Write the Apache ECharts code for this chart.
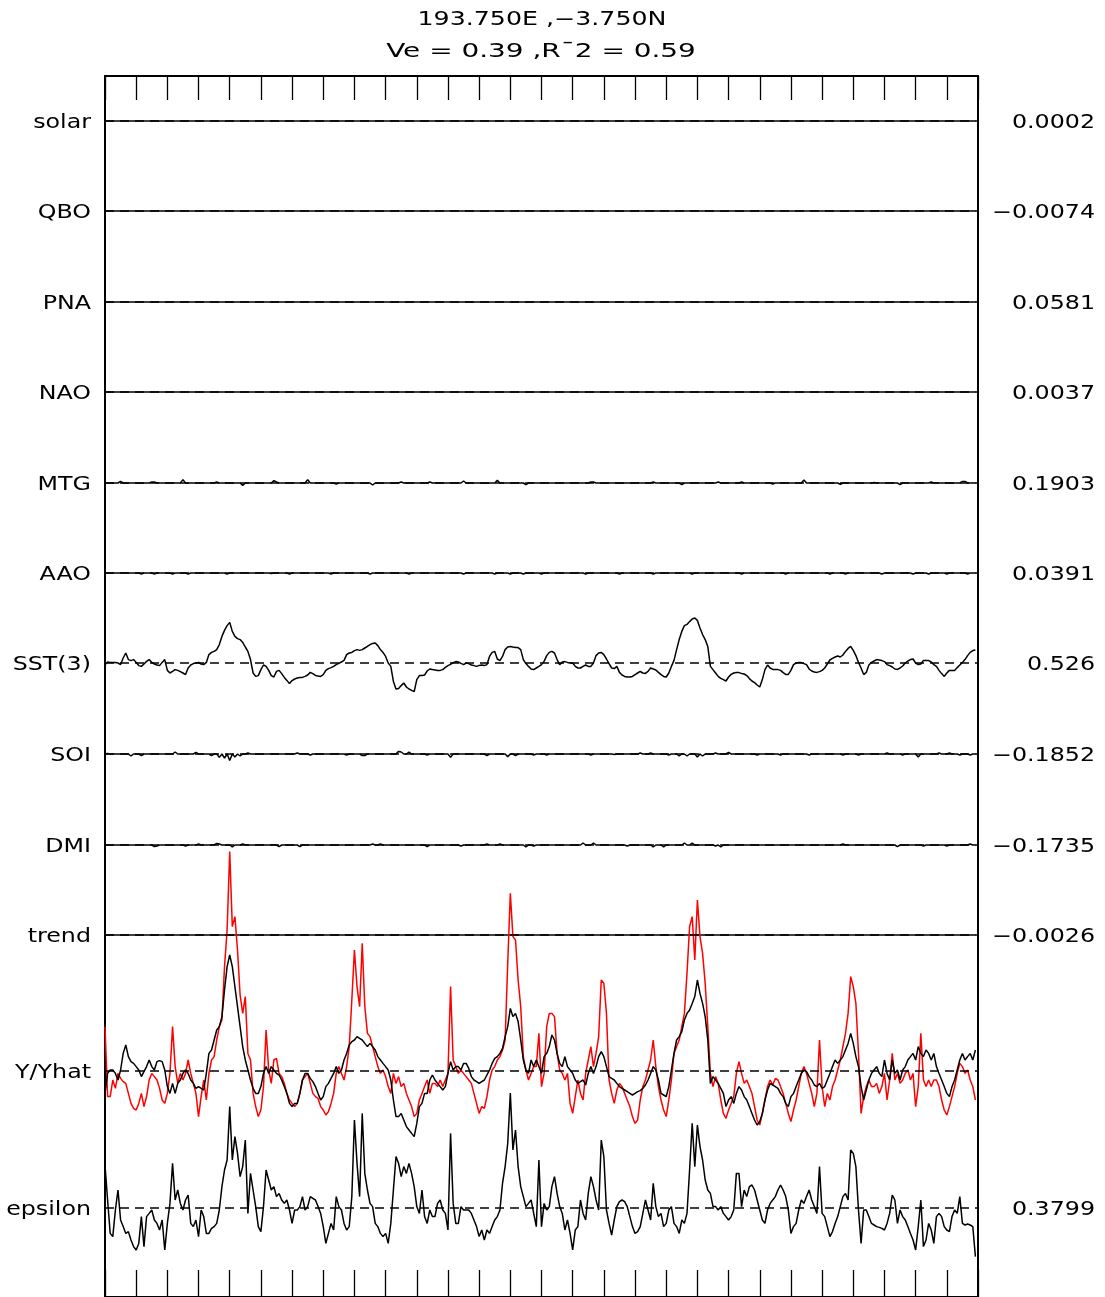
<!DOCTYPE html>
<html><head><meta charset="utf-8">
<script src="https://cdn.jsdelivr.net/npm/echarts@6/dist/echarts.min.js"></script>
<style>html,body{margin:0;padding:0;background:#fff}#c{width:1105px;height:1297px}</style>
</head><body><div id="c"></div>
<script>
// ---------------- DATA ----------------
const titleLine1 = "193.750E ,\u22123.750N";
const titleLine2 = "Ve = 0.39 ,R\u00AF2 = 0.59";
const rowNames = ["solar","QBO","PNA","NAO","MTG","AAO","SST(3)","SOI","DMI","trend","Y/Yhat","epsilon"];
const rowCoefs = ["0.0002","\u22120.0074","0.0581","0.0037","0.1903","0.0391","0.526","\u22120.1852","\u22120.1735","\u22120.0026","","0.3799"];
const nMonths = 336;           // Jan 1979 .. Dec 2006, monthly
const yearTickMonths = 12;

const sst = [
-0.08,0.05,0.03,0.03,0.02,0,-0.08,0.25,0.5,0.17,
0.12,0.17,0.02,-0.13,-0.17,-0.05,0.08,0.17,0.03,-0.05,
-0.1,-0.13,0.03,0.17,-0.37,-0.5,-0.42,-0.33,-0.37,-0.43,
-0.5,-0.58,-0.25,-0.1,-0.03,0,0.03,-0.05,-0.08,0.03,
0.42,0.53,0.58,0.67,0.92,1.33,1.63,1.87,2.03,1.58,
1.33,1.22,1.17,1.03,0.8,0.58,0.17,-0.5,-0.67,-0.63,
-0.33,-0.1,-0.17,-0.37,-0.63,-0.7,-0.42,-0.37,-0.53,-0.72,
-0.87,-1.03,-0.88,-0.8,-0.75,-0.73,-0.72,-0.67,-0.6,-0.47,
-0.53,-0.62,-0.65,-0.67,-0.58,-0.37,-0.28,-0.23,-0.17,-0.08,
-0.02,0.05,0.13,0.42,0.5,0.53,0.62,0.67,0.63,0.67,
0.75,0.83,0.92,0.98,1.0,0.87,0.67,0.53,0.33,0,
-0.17,-0.92,-1.3,-1.27,-1.13,-1.0,-1.2,-1.3,-1.37,-1.43,
-0.83,-0.63,-0.63,-0.6,-0.4,-0.3,-0.33,-0.35,-0.37,-0.37,
-0.33,-0.22,-0.13,-0.07,0.02,0.07,0.05,-0.02,-0.08,0,
-0.03,-0.1,-0.13,-0.17,-0.12,-0.1,-0.13,-0.08,0.33,0.53,
0.58,0.2,0.12,0.33,0.67,0.8,0.83,0.8,0.78,0.77,
0.67,0.17,-0.03,-0.17,-0.3,-0.33,-0.25,-0.17,-0.08,0.08,
0.37,0.53,0.58,0.5,0.17,-0.08,0.05,0.07,0.03,0,
0,-0.17,-0.25,-0.25,-0.17,-0.1,-0.17,-0.17,0,0.37,
0.5,0.53,0.42,0.2,-0.03,-0.25,-0.28,-0.17,-0.47,-0.6,
-0.67,-0.7,-0.7,-0.67,-0.58,-0.5,-0.42,-0.5,-0.52,-0.42,
-0.25,-0.3,-0.35,-0.47,-0.58,-0.67,-0.7,-0.5,-0.17,0.13,
0.67,1.17,1.58,1.87,1.93,2.07,2.2,2.25,2.13,1.75,
1.42,1.17,0.83,-0.17,-0.33,-0.5,-0.67,-0.77,-0.83,-0.9,
-0.7,-0.57,-0.5,-0.47,-0.48,-0.52,-0.55,-0.63,-0.78,-0.9,
-0.98,-1.1,-1.2,-0.83,-0.33,-0.1,-0.25,-0.32,-0.33,-0.33,
-0.37,-0.48,-0.57,-0.57,-0.37,-0.08,0,0.03,0.02,-0.03,
-0.08,-0.3,-0.4,-0.45,-0.47,-0.43,-0.37,-0.25,-0.05,0.15,
0.23,0.3,0.35,0.3,0.4,0.58,0.73,0.83,0.63,0.37,
0.03,-0.25,-0.58,-0.47,-0.1,0.03,0.1,0.17,0.15,0.12,
0.07,-0.08,-0.13,-0.2,-0.3,-0.32,-0.25,-0.15,0,0.1,
0.17,0.2,0,-0.08,-0.05,0.13,0.13,0.12,0.05,-0.08,
-0.17,-0.37,-0.53,-0.67,-0.5,-0.37,-0.38,-0.37,-0.23,-0.1,
0.03,0.17,0.37,0.53,0.62,0.65];

const yObs = [
2.22,-1.28,-1.28,-0.45,-0.87,-0.12,-0.37,-0.53,-0.62,-1.12,
-1.62,-1.87,-1.95,-1.62,-1.12,-1.78,-1.28,-0.45,-0.12,-0.28,
-0.45,-0.87,-1.45,-1.62,-1.12,-0.12,2.22,0.22,-0.62,-0.12,
-0.45,-0.12,0.55,-0.12,-0.62,-1.12,-2.28,-1.28,-0.45,-1.45,
-0.12,0.55,0.72,1.55,2.22,2.55,5.22,7.05,10.97,7.22,
7.72,6.05,3.8,2.88,3.72,0.88,0.55,-1.12,-1.78,-2.28,
-1.95,-0.78,2.05,0.05,-0.62,0.55,0.63,-0.12,-0.28,-0.62,
-1.12,-1.45,-1.62,-1.78,-1.62,-1.12,-0.45,-0.28,-0.12,-0.62,
-1.12,-1.28,-1.37,-1.78,-1.95,-2.2,-2.03,-1.62,-1.12,-0.12,
0.22,-0.12,-0.45,0.22,1.22,3.55,6.05,4.22,3.22,6.38,
3.22,1.88,1.72,1.22,0.72,0.22,-0.12,0.05,-0.28,-0.78,
-1.12,-0.12,-0.62,-0.28,-0.78,-0.62,-1.12,-1.45,-1.78,-2.28,
-2.12,-1.45,-1.12,-0.78,-0.45,-1.12,-0.62,-0.62,-0.78,-0.45,
-0.78,-0.45,-0.12,4.22,0.55,0.22,-0.12,0.05,-0.12,-0.28,
-0.45,-0.62,-1.12,-1.62,-2.12,-1.78,-1.87,-1.28,-0.45,0.05,
0.22,0.55,0.72,1.05,1.55,5.38,8.88,6.72,6.55,4.55,
3.22,0.72,0.05,-0.45,-0.12,0.22,0.22,1.88,-0.78,-0.12,
2.22,2.88,2.88,2.72,0.88,0.05,-0.12,-0.45,-0.12,-1.62,
-2.12,-1.28,-0.45,-1.12,-1.45,-0.12,0.55,1.22,0.22,0.88,
1.72,4.55,4.38,2.88,-0.45,-1.12,-1.62,-0.95,-0.62,-0.78,
-1.12,-1.45,-1.78,-2.28,-2.62,-2.45,-1.45,-0.78,-0.45,0.05,
0.55,1.55,0.22,-0.78,-1.45,-1.95,-2.28,-1.45,-0.45,0.88,
1.22,1.55,2.22,2.88,4.88,7.22,7.72,5.55,8.55,6.72,
5.88,4.38,2.22,-0.12,-0.78,-0.28,-0.62,-1.45,-2.12,-2.37,
-1.95,-1.62,-1.28,-0.12,0.47,-0.12,-0.62,-0.45,-0.78,-1.12,
-1.78,-2.45,-2.7,-2.12,-1.45,-0.78,-0.45,-0.7,-0.37,-0.45,
-0.78,-1.12,-1.62,-2.12,-2.53,-1.95,-1.45,-0.78,-0.12,0.22,
-0.12,-0.62,-1.12,-1.78,-1.12,1.55,-0.78,-1.78,-1.12,-1.45,
-0.78,-0.45,0.05,0.55,1.22,1.88,2.88,4.72,4.22,3.38,
0.88,-2.12,-1.28,-0.78,-0.45,-0.78,-0.78,-0.62,-1.12,-0.78,
-0.12,-1.45,-0.45,0.88,-0.45,-0.12,-0.62,-0.45,-0.12,0.05,
-0.45,-0.12,-1.78,-0.78,1.88,-0.45,-0.78,-0.45,-0.78,-0.45,
-0.45,-0.78,-1.45,-1.95,-2.2,-1.78,-1.28,-0.78,-0.12,0.38,
0.22,-0.12,0.05,-0.45,-0.78,-1.45];

const yHat = [
-1.12,-0.12,0.05,0.05,-0.12,-0.45,0.05,0.88,1.3,0.72,
0.47,0.38,0.22,0.05,-0.28,-0.03,0.22,0.55,0.22,0.05,
0.47,0.52,0.47,0.05,-0.78,-1.12,-0.62,-1.12,-0.62,-0.45,
-0.12,0.05,-0.12,-0.45,-0.62,-0.87,-0.78,-0.87,-0.95,-0.12,
0.88,1.05,1.55,2.05,2.22,2.72,4.05,5.22,5.8,5.22,
4.22,3.22,2.22,1.22,0.55,0.05,-0.45,-0.87,-1.12,-1.12,
-0.78,-0.12,0.22,-0.12,0.22,0.05,-0.12,-0.2,-0.45,-0.78,
-1.12,-1.62,-1.78,-1.62,-1.62,-1.12,-0.45,-0.12,-0.12,-0.37,
-0.53,-0.78,-1.12,-1.45,-1.28,-0.78,-0.62,-0.37,-0.12,0.22,
-0.12,0.05,0.55,0.88,1.3,1.47,1.55,1.72,1.63,1.55,
1.38,1.22,1.38,1.22,1.05,0.72,0.55,0.38,0.22,0.05,
-0.45,-1.45,-2.28,-2.28,-2.12,-2.45,-2.78,-2.95,-3.12,-3.28,
-2.62,-1.78,-1.62,-1.12,-1.12,-0.45,-0.2,-0.45,-0.62,-0.78,
-0.95,-0.78,-0.12,0.47,0.05,0.22,0.22,0.05,0.38,0.38,
0.13,-0.28,-0.45,-0.53,-0.62,-0.53,-0.45,-0.2,0.05,0.38,
0.63,0.72,0.88,1.13,1.72,2.22,3.13,2.72,2.88,2.47,
1.55,0.55,0.05,-0.12,0.55,0.22,0.55,0.22,-0.12,0.72,
0.88,1.22,1.8,1.55,0.88,0.38,0.22,0.72,0.22,0.05,
-0.12,-0.45,-0.62,-0.53,-0.45,-0.7,-0.12,0.22,-0.12,0.22,
0.72,0.97,0.72,0.22,-0.28,-0.37,-0.45,-0.62,-0.78,-0.87,
-0.95,-1.03,-1.12,-1.2,-1.12,-1.03,-0.98,-0.87,-0.7,-0.45,
-0.12,0.22,0.05,-0.45,-1.12,-1.2,-1.28,-0.78,0.05,0.88,
1.55,1.72,1.97,2.55,2.88,3.05,3.38,3.72,4.55,3.88,
3.38,2.72,1.55,-0.62,-0.28,-0.45,-0.62,-0.87,-1.12,-1.78,
-1.45,-1.28,-1.62,-1.12,-0.78,-0.95,-1.28,-1.45,-1.78,-2.12,
-2.45,-2.7,-2.53,-2.12,-1.45,-0.95,-0.62,-0.7,-0.78,-0.87,
-1.12,-1.28,-1.62,-1.78,-1.28,-1.12,-0.78,-0.45,-0.12,0.05,
-0.03,-0.28,-0.45,-0.7,-0.78,-0.62,-0.87,-0.78,-0.45,-0.12,
0.22,0.55,0.38,0.55,0.72,1.05,1.38,1.88,1.38,0.72,
0.22,-0.78,-1.45,-0.95,-0.45,-0.12,0.05,0.22,-0.12,-0.28,
0.55,-0.12,-0.45,0.55,-0.12,0.05,-0.45,0.05,0.22,0.55,
0.72,0.88,0.55,1.22,0.88,0.72,1.05,0.88,0.55,0.88,
0.22,-0.12,-0.45,-0.78,-1.12,-1.28,-0.78,-0.45,0.05,0.55,
0.88,0.55,0.72,0.88,0.55,1.05];

const epsilon = [
2.15,0.4,-1.27,-1.43,-0.1,0.9,-0.6,-0.93,-1.27,-1.18,
-1.6,-1.93,-2.1,-1.77,-0.43,-1.93,-0.43,-0.27,-0.1,-0.6,
-0.77,-1.1,-0.6,-2.1,-0.77,0.23,2.23,0.4,0.9,0.23,
-0.1,0.4,0.65,-0.77,-0.93,-0.6,-1.43,-0.1,-0.43,-1.27,
-1.27,-1.02,-0.93,-0.77,-0.1,1.07,1.9,2.4,5.07,2.4,
3.57,2.73,1.57,2.07,3.4,-0.27,1.73,0.9,0.07,-0.93,
-1.18,0.07,1.9,1.4,0.9,1.07,0.57,0.73,0.4,0.23,
0.4,-0.1,-0.77,-0.1,-0.1,0.07,0.57,-0.1,0.07,0.57,
0.48,0.4,0.07,-0.27,-0.93,-1.77,-1.27,-0.77,-1.1,0.57,
0.07,-0.1,-0.77,-1.1,-0.93,0.57,4.4,2.23,0.57,4.73,
1.73,0.9,0.23,0.07,-0.77,-0.93,-1.27,-1.43,-1.27,-1.77,
-0.77,0.9,2.57,2.23,1.57,2.07,1.73,2.23,1.73,1.07,
0.07,-0.27,0.9,-0.43,-0.77,-0.1,-0.43,-0.43,0.23,0.4,
-0.1,-0.27,-1.1,3.73,0.23,-0.77,-0.77,0.07,-0.1,-0.1,
-0.1,-0.27,-0.6,-0.93,-1.43,-1.1,-1.6,-1.1,-1.27,-0.93,
-0.6,-0.43,-0.1,1.23,2.07,3.23,5.75,2.9,3.9,2.07,
1.07,0.57,0.07,0.23,0.4,-0.27,-0.93,2.4,-0.93,0.23,
-0.1,0.07,1.07,1.57,0.73,0.07,-0.27,-1.1,-0.6,-1.27,
-2.1,-1.1,-0.93,0.4,-0.27,-0.6,0.73,1.57,1.07,0.4,
-0.1,3.4,2.57,-0.1,-0.77,-1.35,-0.6,0.07,0.32,0.4,
0.32,0.07,-0.43,-0.93,-1.27,-1.18,-0.93,-0.27,0.4,-0.1,
-0.6,1.23,0.07,-0.43,-0.27,-0.93,-0.77,-0.1,0.07,-0.77,
-0.93,-1.27,-0.6,-0.77,-0.27,1.9,4.23,2.07,4.15,3.07,
2.4,1.4,0.9,0.73,0.07,0.07,-0.1,0.07,-0.27,-0.43,
-0.6,-0.43,-0.1,1.73,1.73,0.07,0.9,0.57,1.07,1.15,
0.9,0.4,-0.1,-0.6,-0.77,-0.1,0.23,0.4,0.57,0.9,
1.15,0.9,0.57,-0.1,-1.27,-0.93,-0.77,-0.1,0.4,0.23,
0.57,0.9,0.4,0.07,-0.27,2.07,-0.27,-0.43,-0.93,-1.43,
-1.18,-0.77,-0.43,0.07,0.57,0.73,0.4,2.9,2.73,2.07,
-0.1,-1.77,-0.1,-0.1,-0.43,-0.77,-0.85,-0.93,-0.97,-1.02,
-1.1,-0.77,-0.27,0.65,0.4,-0.77,-0.1,-0.43,-0.6,-0.93,
-1.27,-1.6,-2.1,-0.93,0.4,-1.93,-1.6,-0.77,-1.1,-1.77,
-0.43,-0.27,-0.43,-0.93,-1.1,-1.18,-0.43,-0.1,-0.27,0.57,
-0.77,-0.85,-0.8,-0.85,-0.93,-2.43];

// near-flat components: [month, value] departures from zero
const mtgDepart = [[6,0.08],[18,0.05],[19,0.05],[30,0.17],[43,0.05],[53,-0.12],[65,0.12],[66,0.05],[78,0.17],[89,-0.05],[103,-0.1],[114,0.05],[125,0.05],[138,0.1],[151,0.13],[162,-0.08],[187,0.05],[188,0.05],[211,0.05],[222,-0.08],[236,0.05],[245,0.05],[257,-0.05],[269,0.15],[283,-0.06],[296,0.03],[306,-0.08],[318,0.05],[330,0.08],[331,0.08]];
const aaoDepart = [[14,-0.05],[19,-0.05],[26,-0.05],[32,-0.05],[47,-0.05],[64,-0.03],[71,-0.05],[87,-0.05],[102,-0.05],[117,-0.05],[138,-0.05],[150,-0.05],[156,-0.05],[161,-0.05],[168,-0.05],[185,-0.05],[198,-0.05],[211,-0.05],[226,-0.05],[245,-0.05],[262,-0.05],[279,-0.05],[285,-0.05],[299,-0.05],[311,-0.05],[317,-0.05],[324,-0.05],[332,-0.05]];
const soiDepart = [[1,0.03],[10,-0.1],[14,-0.08],[27,0.1],[35,0.08],[41,-0.08],[44,-0.17],[46,-0.2],[48,-0.33],[50,-0.15],[52,-0.1],[55,0.05],[74,0.05],[79,-0.05],[93,-0.05],[99,-0.08],[100,-0.08],[113,0.13],[114,0.1],[117,0.1],[124,-0.05],[133,-0.17],[147,-0.08],[155,-0.13],[158,-0.08],[165,-0.05],[170,-0.05],[187,-0.05],[196,-0.03],[206,0.05],[210,0.05],[217,-0.05],[221,-0.1],[224,-0.1],[228,-0.15],[230,-0.1],[235,0.05],[240,0.08],[251,-0.05],[260,-0.05],[271,-0.05],[284,-0.05],[290,-0.05],[301,0.05],[307,-0.05],[313,-0.15],[321,0.05],[325,0.05],[329,-0.05],[333,-0.05]];
const dmiDepart = [[19,-0.08],[20,-0.05],[31,-0.05],[36,0.05],[43,0.08],[44,0.05],[49,-0.1],[53,0.05],[67,-0.08],[75,-0.08],[103,0.05],[106,0.05],[124,-0.08],[137,-0.05],[147,0.05],[152,0.05],[162,-0.1],[165,-0.05],[184,0.1],[188,0.1],[201,-0.05],[211,-0.1],[215,-0.1],[223,0.1],[226,0.1],[235,-0.05],[237,-0.1],[284,0.05],[305,-0.08],[315,-0.05],[324,-0.05],[333,0.05]];

// ---------------- BUILD ----------------
const months = Array.from({length: nMonths}, (_, i) => i);
function fromDepart(list){ const a = months.map(() => 0); list.forEach(([m, v]) => { a[m] = v; }); return a; }
const flat = months.map(() => 0);
const rowSeries = [
  [{d: flat}], [{d: flat}], [{d: flat}], [{d: flat}],
  [{d: fromDepart(mtgDepart)}], [{d: fromDepart(aaoDepart)}],
  [{d: sst}], [{d: fromDepart(soiDepart)}], [{d: fromDepart(dmiDepart)}],
  [{d: flat}],
  [{d: yObs, c: '#ff0000'}, {d: yHat}],
  [{d: epsilon}]
];

// layout
const W = 1105, H = 1297, L = 105, R = 978, TOP = 76;
const rowY = [121, 211, 302, 392, 483, 573, 663, 754, 845, 935, 1071, 1208];
const halfH = 40, yRange = 2;   // 20 px per unit
const FONT = '"DejaVu Sans", sans-serif';
const LW = 1.5;

const grid = [{left: L, top: TOP, width: R - L, height: H - TOP + 2, show: true, borderColor: '#000', borderWidth: 2, backgroundColor: 'rgba(0,0,0,0)', containLabel: false}];
const xAxis = [
  {gridIndex: 0, type: 'value', min: 0, max: nMonths, interval: yearTickMonths, position: 'top',
   axisLine: {show: true, onZero: false, lineStyle: {color: '#000', width: 2}}, axisTick: {show: true, inside: true, length: 24, lineStyle: {color: '#000', width: 1.3}},
   axisLabel: {show: false}, splitLine: {show: false}},
  {gridIndex: 0, type: 'value', min: 0, max: nMonths, interval: yearTickMonths, position: 'bottom',
   axisLine: {show: true, onZero: false, lineStyle: {color: '#000', width: 2}}, axisTick: {show: true, inside: true, length: 27, lineStyle: {color: '#000', width: 1.3}},
   axisLabel: {show: false}, splitLine: {show: false}}
];
const yAxis = [{gridIndex: 0, type: 'value', min: 0, max: 1, show: false}];
const series = [];
const graphic = [];

rowNames.forEach((name, r) => {
  const gi = r + 1;
  grid.push({left: L, width: R - L, top: rowY[r] - halfH, height: 2 * halfH, show: false});
  xAxis.push({gridIndex: gi, type: 'value', min: 0, max: nMonths, show: false});
  yAxis.push({gridIndex: gi, type: 'value', min: -yRange, max: yRange, show: false});
  rowSeries[r].forEach((s, k) => {
    const obj = {
      type: 'line', xAxisIndex: gi + 1, yAxisIndex: gi,
      data: s.d.map((v, i) => [months[i], v]),
      symbol: 'none', showSymbol: false, clip: false, silent: true, animation: false,
      lineStyle: {color: s.c || '#000', width: LW}, z: 3 + k
    };
    if (k === 0) {
      obj.markLine = {silent: true, symbol: 'none', animation: false, label: {show: false},
        lineStyle: {type: [9, 6], color: '#000', width: LW}, data: [{yAxis: 0}]};
    }
    series.push(obj);
  });
  graphic.push({type: 'text', x: 91, y: rowY[r] + 2, scaleX: 1.25, silent: true,
    style: {text: name, fontSize: 19, fontFamily: FONT, fill: '#000', textAlign: 'right', align: 'right', textVerticalAlign: 'middle', verticalAlign: 'middle'}});
  if (rowCoefs[r]) {
    graphic.push({type: 'text', x: 1095, y: rowY[r] + 2, scaleX: 1.25, silent: true,
      style: {text: rowCoefs[r], fontSize: 19, fontFamily: FONT, fill: '#000', textAlign: 'right', align: 'right', textVerticalAlign: 'middle', verticalAlign: 'middle'}});
  }
});
graphic.push({type: 'text', x: 542, y: 20, scaleX: 1.33, silent: true,
  style: {text: titleLine1, fontSize: 19, fontFamily: FONT, fill: '#000', textAlign: 'center', align: 'center', textVerticalAlign: 'middle', verticalAlign: 'middle'}});
graphic.push({type: 'text', x: 541, y: 52, scaleX: 1.47, silent: true,
  style: {text: titleLine2, fontSize: 19, fontFamily: FONT, fill: '#000', textAlign: 'center', align: 'center', textVerticalAlign: 'middle', verticalAlign: 'middle'}});

const chart = echarts.init(document.getElementById('c'), null, {renderer: 'canvas'});
chart.setOption({animation: false, backgroundColor: '#fff', grid, xAxis, yAxis, series, graphic});
</script></body></html>
